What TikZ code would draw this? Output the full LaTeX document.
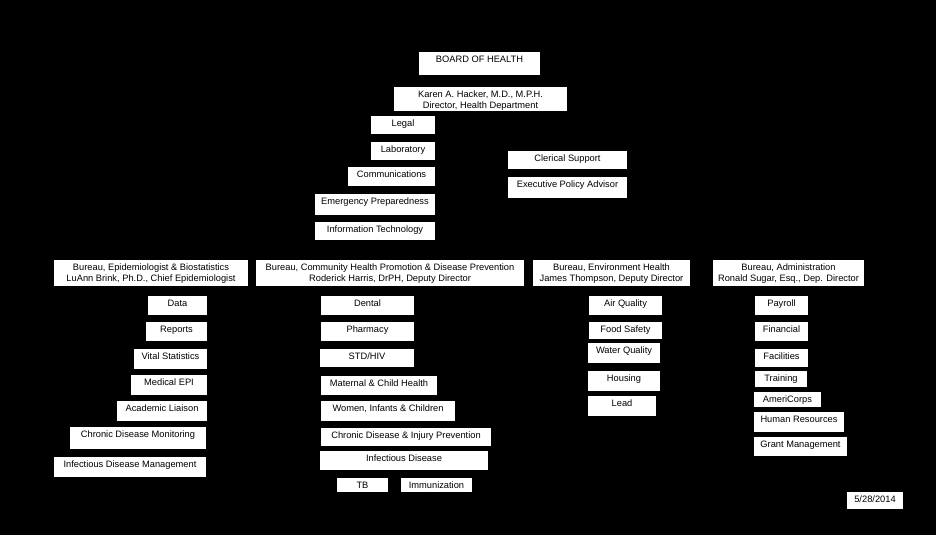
\documentclass[tikz,border=0pt]{standalone}
\usepackage{fontspec}
\setmainfont{Liberation Sans}
\tikzset{
  obox/.style={fill=white, draw=none, inner sep=0pt, outer sep=0pt, anchor=north west},
  otxt/.style={inner sep=0pt, outer sep=0pt, text=black, font=\fontsize{9.3}{11}\selectfont, anchor=base}
}
\newcommand{\obx}[6]{%
  \node[obox, minimum width={(#4-#2)*1pt}, minimum height={(#5-#3)*1pt}] (#1) at (#2,#3) {};
  \node[otxt] (#1t) at ([yshift=-10.8pt]#1.north) {#6};
}
\newcommand{\tbx}[8]{%
  \node[obox, minimum width={(#4-#2)*1pt}, minimum height={(#5-#3)*1pt}] (#1) at (#2,#3) {};
  \node[otxt] (#1a) at ([yshift=-#8pt]#1.north) {#6};
  \node[otxt] (#1b) at ([yshift=-#8pt-11pt]#1.north) {#7};
}
\begin{document}
\begin{tikzpicture}[x=1pt,y=-1pt]
\fill[black] (0,0) rectangle (936,535);
\useasboundingbox (0,0) rectangle (936,535);
% top
\obx{board}{419}{52}{540}{75}{BOARD OF HEALTH}
\tbx{dir}{394}{87}{567}{111}{Karen A. Hacker, M.D., M.P.H.}{Director, Health Department}{10}
\obx{legal}{371}{116}{435}{134}{Legal}
\obx{lab}{371}{142}{435}{160}{Laboratory}
\obx{comm}{348}{167}{435}{186}{Communications}
\obx{emerg}{315}{194}{435}{215}{Emergency Preparedness}
\obx{it}{315}{222}{435}{240}{Information Technology}
\obx{cler}{508}{151}{627}{169}{Clerical Support}
\obx{exec}{508}{177}{627}{198}{Executive Policy Advisor}
% bureaus
\tbx{epi}{54}{260}{248}{285.5}{Bureau, Epidemiologist \& Biostatistics}{LuAnn Brink, Ph.D., Chief Epidemiologist}{10.6}
\tbx{chp}{256}{260}{524}{285.5}{Bureau, Community Health Promotion \& Disease Prevention}{Roderick Harris, DrPH, Deputy Director}{10.6}
\tbx{env}{533}{260}{690}{285.5}{Bureau, Environment Health}{James Thompson, Deputy Director}{10.6}
\tbx{adm}{713}{260}{864}{285.5}{Bureau, Administration}{Ronald Sugar, Esq., Dep. Director}{10.6}
% epi column
\obx{data}{148}{296}{207}{315}{Data}
\obx{rep}{146}{322}{207}{341}{Reports}
\obx{vital}{134}{349}{207}{369}{Vital Statistics}
\obx{medepi}{131}{375}{207}{395}{Medical EPI}
\obx{acad}{117}{401}{207}{421}{Academic Liaison}
\obx{cdm}{70}{427}{206}{449}{Chronic Disease Monitoring}
\obx{idm}{54}{457}{206}{477}{Infectious Disease Management}
% chp column
\obx{dental}{321}{296}{414}{315}{Dental}
\obx{pharm}{321}{322}{414}{341}{Pharmacy}
\obx{std}{320}{349}{414}{367}{STD/HIV}
\obx{mch}{321}{376}{437}{395}{Maternal \& Child Health}
\obx{wic}{321}{401}{455}{421}{Women, Infants \& Children}
\obx{cdip}{321}{428}{491}{446}{Chronic Disease \& Injury Prevention}
\obx{infd}{320}{451}{488}{470}{Infectious Disease}
\obx{tb}{337}{478}{388}{492}{TB}
\obx{imm}{401}{478}{472}{492}{Immunization}
% env column
\obx{air}{589}{296}{662}{315}{Air Quality}
\obx{food}{589}{322}{662}{339}{Food Safety}
\obx{water}{588}{343}{660}{363}{Water Quality}
\obx{hous}{588}{371}{660}{391}{Housing}
\obx{lead}{588}{396}{656}{416}{Lead}
% admin column
\obx{pay}{755}{296}{808}{315}{Payroll}
\obx{fin}{755}{322}{808}{341}{Financial}
\obx{fac}{755}{349}{808}{367}{Facilities}
\obx{train}{755}{371}{807}{387}{Training}
\obx{amer}{754}{392}{821}{407}{AmeriCorps}
\obx{hr}{754}{412}{844}{432}{Human Resources}
\obx{grant}{754}{437}{847}{456}{Grant Management}
\obx{date}{847}{492}{903}{509}{5/28/2014}
\end{tikzpicture}
\end{document}
